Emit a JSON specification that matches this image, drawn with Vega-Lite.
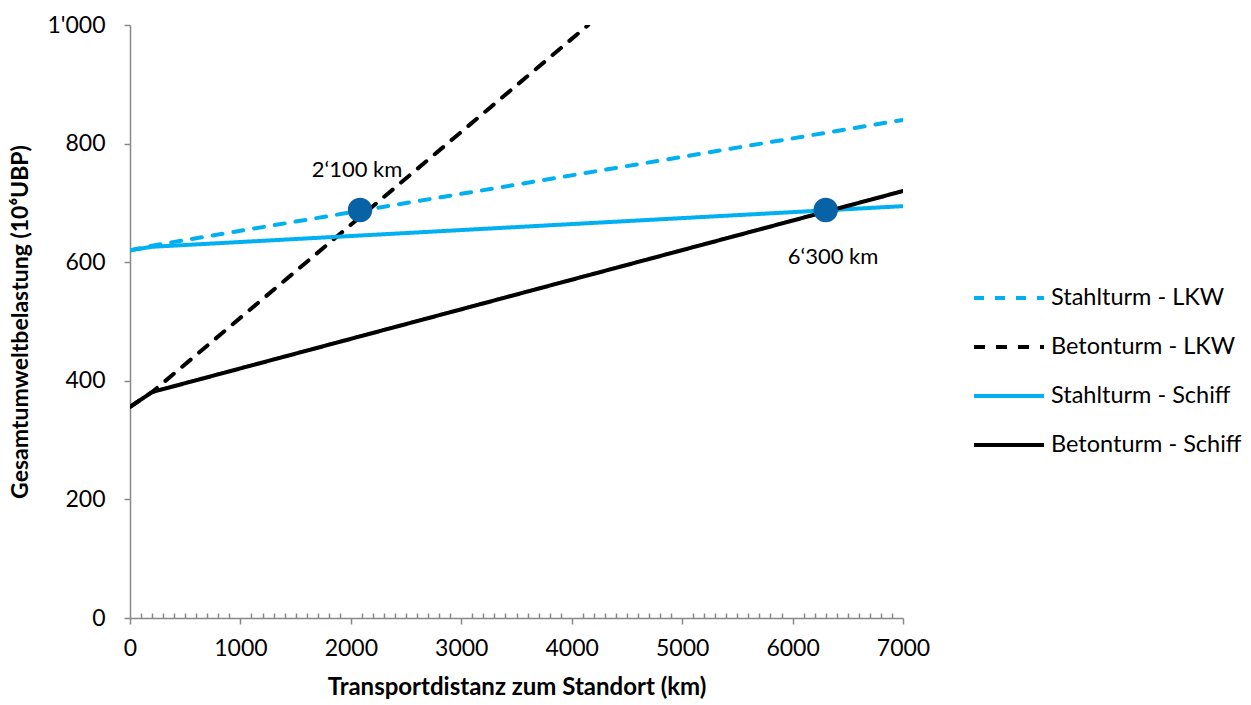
{
  "$schema": "https://vega.github.io/schema/vega-lite/v6.json",
  "width": 773,
  "height": 593,
  "autosize": "none",
  "padding": {"left": 130, "top": 25, "right": 348, "bottom": 87},
  "background": "white",
  "config": {
    "view": {"stroke": null},
    "font": "Lato",
    "axis": {"labelFont": "Lato", "titleFont": "Lato", "labelColor": "#000", "titleColor": "#000", "grid": false, "domainColor": "#888888", "tickColor": "#888888", "domainWidth": 1.5, "tickWidth": 1.5}
  },
  "datasets": {
    "lines": [
      {"km": 0, "value": 620, "serie": "Stahlturm - LKW"},
      {"km": 200, "value": 628, "serie": "Stahlturm - LKW"},
      {"km": 7000, "value": 840, "serie": "Stahlturm - LKW"},
      {"km": 0, "value": 356, "serie": "Betonturm - LKW"},
      {"km": 200, "value": 381, "serie": "Betonturm - LKW"},
      {"km": 4150, "value": 1000, "serie": "Betonturm - LKW"},
      {"km": 0, "value": 620, "serie": "Stahlturm - Schiff"},
      {"km": 200, "value": 626, "serie": "Stahlturm - Schiff"},
      {"km": 7000, "value": 694.5, "serie": "Stahlturm - Schiff"},
      {"km": 0, "value": 356, "serie": "Betonturm - Schiff"},
      {"km": 200, "value": 381, "serie": "Betonturm - Schiff"},
      {"km": 7000, "value": 720, "serie": "Betonturm - Schiff"}
    ],
    "points": [
      {"km": 2083, "value": 688},
      {"km": 6300, "value": 688}
    ],
    "labels": [
      {"km": 2056, "value": 755, "text": "2‘100 km"},
      {"km": 6366, "value": 608, "text": "6‘300 km"}
    ]
  },
  "layer": [
    {
      "data": {"name": "lines"},
      "mark": {"type": "line", "strokeWidth": 4, "clip": true, "strokeCap": "round"},
      "encoding": {
        "x": {
          "field": "km", "type": "quantitative",
          "scale": {"domain": [0, 7000], "nice": false, "zero": true},
          "axis": {
            "title": "Transportdistanz zum Standort (km)",
            "titleFontSize": 24, "titleFontWeight": "bold", "titlePadding": 15,
            "labelFontSize": 23, "labelPadding": 13, "tickCount": 200,
            "values": [0,100,200,300,400,500,600,700,800,900,1000,1100,1200,1300,1400,1500,1600,1700,1800,1900,2000,2100,2200,2300,2400,2500,2600,2700,2800,2900,3000,3100,3200,3300,3400,3500,3600,3700,3800,3900,4000,4100,4200,4300,4400,4500,4600,4700,4800,4900,5000,5100,5200,5300,5400,5500,5600,5700,5800,5900,6000,6100,6200,6300,6400,6500,6600,6700,6800,6900,7000],
            "labelExpr": "datum.value % 1000 === 0 ? datum.label : ''",
            "format": "d",
            "tickSize": {"condition": {"test": "datum.value % 1000 === 0", "value": 6}, "value": -5},
            "labelFlush": false, "labelOverlap": false
          }
        },
        "y": {
          "field": "value", "type": "quantitative",
          "scale": {"domain": [0, 1000], "nice": false},
          "axis": {
            "title": "Gesamtumweltbelastung (10⁶UBP)",
            "titleFontSize": 23, "titleFontWeight": "bold", "titlePadding": 14,
            "labelFontSize": 23, "labelPadding": 19, "tickSize": 6,
            "values": [0, 200, 400, 600, 800, 1000],
            "labelExpr": "datum.value >= 1000 ? \"1'000\" : datum.label"
          }
        },
        "color": {
          "field": "serie", "type": "nominal",
          "scale": {
            "domain": ["Stahlturm - LKW", "Betonturm - LKW", "Stahlturm - Schiff", "Betonturm - Schiff"],
            "range": ["#00B0F0", "#000000", "#00B0F0", "#000000"]
          },
          "legend": {
            "title": null, "orient": "none", "legendX": 842, "legendY": 236,
            "labelFontSize": 23.5, "labelFont": "Lato", "labelColor": "#000", "labelLimit": 400,
            "symbolType": "stroke", "symbolSize": 4900, "symbolStrokeWidth": 4,
            "rowPadding": -30, "labelOffset": 5
          }
        },
        "strokeDash": {
          "field": "serie", "type": "nominal",
          "scale": {
            "domain": ["Stahlturm - LKW", "Betonturm - LKW", "Stahlturm - Schiff", "Betonturm - Schiff"],
            "range": [[10, 11], [11, 11], [1, 0], [1, 0]]
          },
          "legend": {
            "title": null, "orient": "none", "legendX": 842, "legendY": 236,
            "labelFontSize": 23.5, "labelLimit": 400, "symbolType": "stroke", "symbolSize": 4900, "symbolStrokeWidth": 4,
            "rowPadding": -30, "labelOffset": 5
          }
        }
      }
    },
    {
      "data": {"name": "points"},
      "mark": {"type": "point", "filled": true, "shape": "circle", "size": 600, "color": "#0862A6", "opacity": 1},
      "encoding": {
        "x": {"field": "km", "type": "quantitative"},
        "y": {"field": "value", "type": "quantitative"}
      }
    },
    {
      "data": {"name": "labels"},
      "mark": {"type": "text", "fontSize": 22, "font": "Lato", "color": "#000", "align": "center", "baseline": "middle"},
      "encoding": {
        "x": {"field": "km", "type": "quantitative"},
        "y": {"field": "value", "type": "quantitative"},
        "text": {"field": "text", "type": "nominal"}
      }
    }
  ]
}
